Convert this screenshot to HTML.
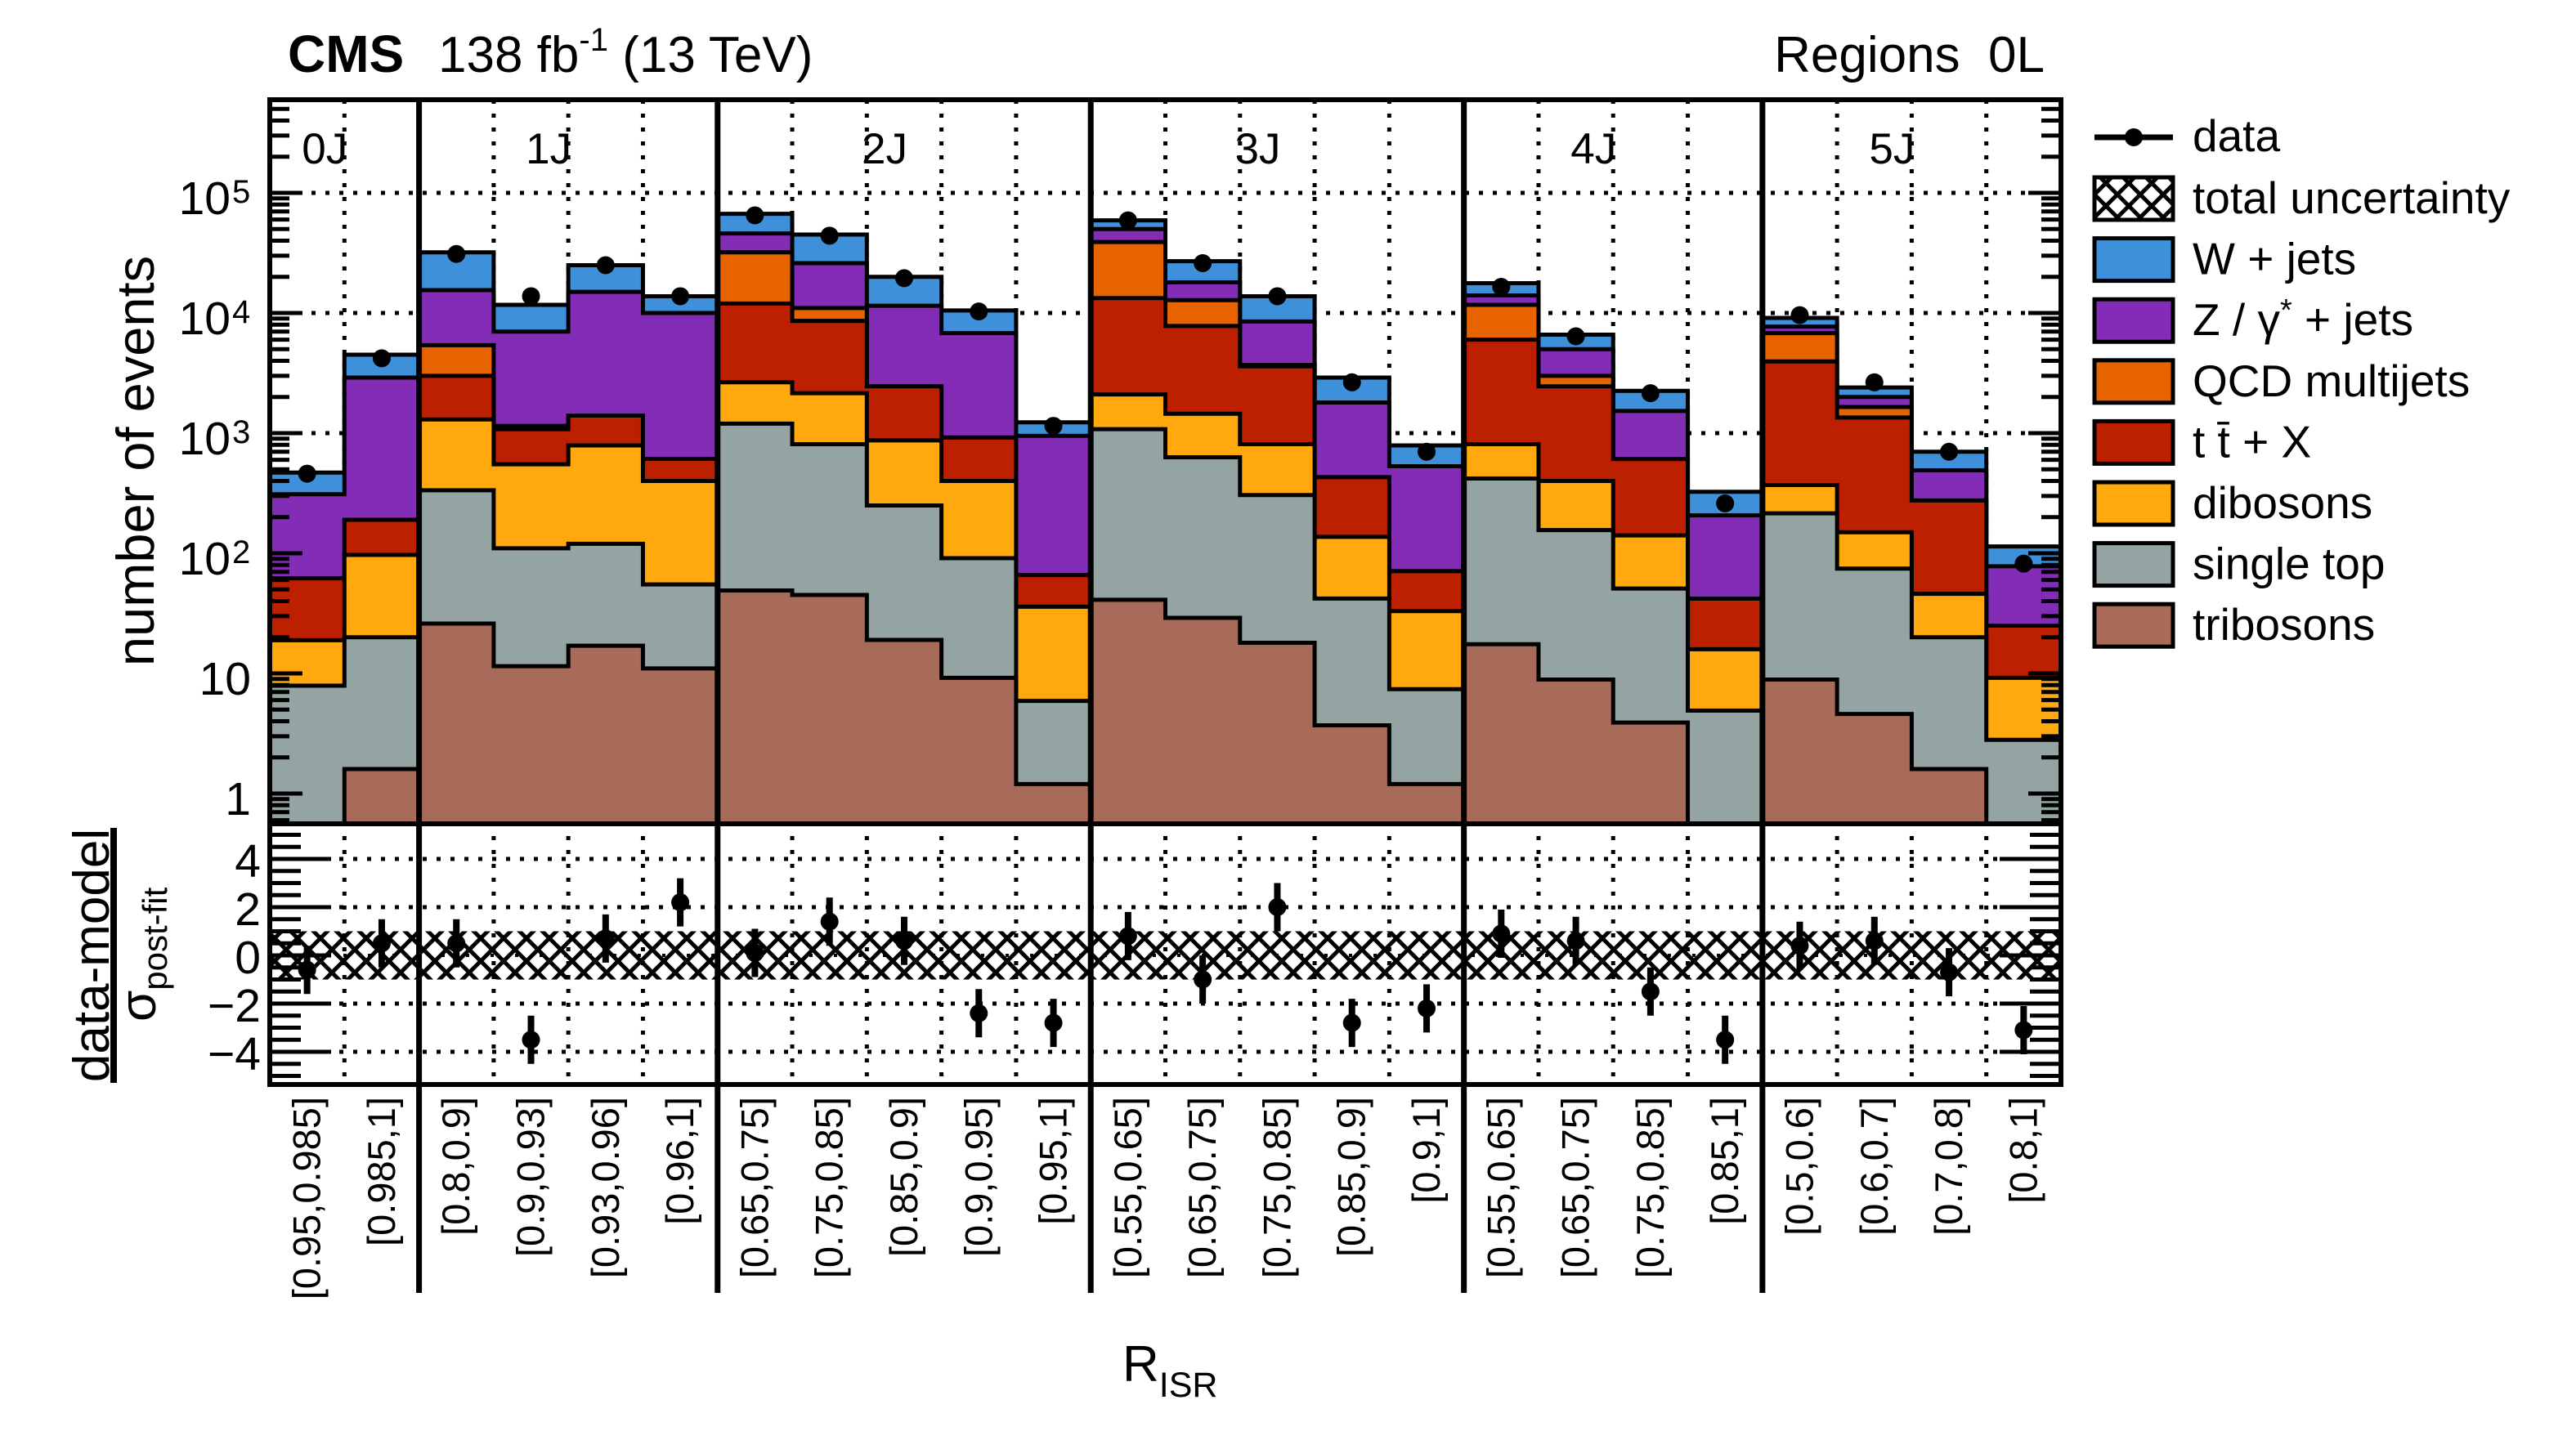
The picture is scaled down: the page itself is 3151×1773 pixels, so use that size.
<!DOCTYPE html>
<html><head><meta charset="utf-8"><style>
html,body{margin:0;padding:0;background:#fff;}
svg{display:block;font-family:"Liberation Sans",Arial,sans-serif;}
</style></head><body>
<svg id="chart" width="3151" height="1773" viewBox="0 0 3151 1773" xmlns="http://www.w3.org/2000/svg">
<defs>
<pattern id="hatch" patternUnits="userSpaceOnUse" width="28" height="28">
<path d="M0,0 L28,28 M28,0 L0,28" stroke="#000" stroke-width="5"/>
</pattern>
<clipPath id="mainClip"><rect x="330" y="122" width="2191" height="886"/></clipPath>
<clipPath id="ratioClip"><rect x="330" y="1008" width="2191" height="319"/></clipPath>
</defs>
<rect width="3151" height="1773" fill="#fff"/>
<g id="grid"></g>
<g id="stacks" clip-path="url(#mainClip)"></g>
<g id="ratio" clip-path="url(#ratioClip)"></g>
<g id="axes"></g>
<g id="points"></g>
<text x="352" y="88" font-size="64" font-weight="bold">CMS</text>
<text x="536" y="88" font-size="62">138 fb<tspan dy="-26" font-size="40">-1</tspan><tspan dy="26" font-size="62"> (13 TeV)</tspan></text>
<text x="2501" y="88" font-size="62" text-anchor="end" xml:space="preserve">Regions  0L</text>
<text transform="translate(188,564) rotate(-90)" font-size="65" text-anchor="middle">number of events</text>
<g>
<text transform="translate(133,1169) rotate(-90)" font-size="62" text-anchor="middle">data-model</text>
<rect x="135" y="1013" width="8" height="312" fill="#000"/>
<text transform="translate(190,1250) rotate(-90)" font-size="62" text-anchor="start">σ<tspan font-size="42" dy="14">post-fit</tspan></text>
</g>
<text x="1373" y="1690" font-size="62">R<tspan font-size="43" dy="19">ISR</tspan></text>
<g id="legend"></g>
</svg>
<script>
const groups = ["0J","1J","2J","3J","4J","5J"];
const groupSizes = [2,4,5,5,4,4];
const binLabels = ["[0.95,0.985]","[0.985,1]","[0.8,0.9]","[0.9,0.93]","[0.93,0.96]","[0.96,1]",
"[0.65,0.75]","[0.75,0.85]","[0.85,0.9]","[0.9,0.95]","[0.95,1]",
"[0.55,0.65]","[0.65,0.75]","[0.75,0.85]","[0.85,0.9]","[0.9,1]",
"[0.55,0.65]","[0.65,0.75]","[0.75,0.85]","[0.85,1]",
"[0.5,0.6]","[0.6,0.7]","[0.7,0.8]","[0.8,1]"];
const tribosons = [0.3,1.6,26,11.5,17,11,49,45,19,9.2,1.2,41,29,18,3.7,1.2,17.5,8.9,3.9,0.3,8.9,4.6,1.6,0.3];
const singleTop = [7.6,18.4,309,98.5,103,44,1151,765,231,81.8,4.7,1039,601,287,38.3,6.2,402,147,47,4.6,206,70,18.4,2.5];
const dibosons = [11,77,965,440,670,345,1450,1340,620,309,30,1020,820,505,95,25.6,390,244,90,11,155,75,26,6.4];
const ttX = [43,93,1700,530,610,210,9350,6450,1580,520,30,11200,6350,2790,293,38,5190,2050,469,26,3580,1200,229,15.8];
const qcd = [0,0,2400,70,0,0,20000,2400,0,0,0,25700,5000,100,0,0,5700,550,0,0,2850,300,0,0];
const zjets = [248,2710,10100,5850,13600,9390,14000,15000,9050,5880,884,11000,5200,4800,1370,459,2300,2000,920,165,900,350,215,53];
const wjets = [160,1600,16500,4700,10000,3800,21000,19000,8500,3700,280,9000,9000,5300,1100,260,3700,1600,720,118,1400,400,210,36];
const dataCounts = [460,4200,31000,13800,25000,13800,65000,44000,19500,10300,1150,59000,26000,13800,2650,700,16500,6400,2150,260,9600,2650,700,82];
const pulls = [-0.6,0.5,0.5,-3.5,0.7,2.2,0.1,1.4,0.6,-2.4,-2.8,0.8,-1.0,2.0,-2.8,-2.2,0.9,0.6,-1.5,-3.5,0.4,0.6,-0.7,-3.1];
const pullErrors = [1,1,1,1,1,1,1,1,1,1,1,1,1,1,1,1,1,1,1,1,1,1,1,1];
const mainTickLabels = ["1","10","10","10","10","10"];
const mainTickExps = ["","","2","3","4","5"];
const ratioTickValues = [4,2,0,-2,-4];
const ratioTickLabels = ["4","2","0","\u22122","\u22124"];
const uncBand = 1.0;

const NS="http://www.w3.org/2000/svg";
const X0=330, X1=2521, NB=binLabels.length, BW=(X1-X0)/NB;
const YT=122, YB=1008, RB=1327;
const bx = i => X0 + i*BW;
const yLog = v => { const vv=Math.max(v,1e-3); return Math.min(YB+20, 971 - 147*Math.log10(vv)); };
const yR = r => 1169 - 29.5*r;
function mk(tag, attrs, parent){ const e=document.createElementNS(NS,tag); for(const k in attrs) e.setAttribute(k,attrs[k]); if(parent) parent.appendChild(e); return e; }
const G=id=>document.getElementById(id);

// grid
const grid=G('grid');
let edge=0; const groupEdges=[0];
groupSizes.forEach(s=>{edge+=s; groupEdges.push(edge);});
for(let i=1;i<NB;i++){
  if(groupEdges.includes(i)) continue;
  const l=mk('line',{x1:bx(i),x2:bx(i),y1:YT,y2:RB,stroke:'#000','stroke-width':5,'stroke-dasharray':'5 12'},grid);
  
  
}
for(let d=3; d<=5; d++){
  const y=yLog(Math.pow(10,d));
  const l=mk('line',{x1:X0,x2:X1,y1:y,y2:y,stroke:'#000','stroke-width':5,'stroke-dasharray':'5 12'},grid);
  
  
}
ratioTickValues.forEach(v=>{ if(v===0) return;
  const l=mk('line',{x1:X0,x2:X1,y1:yR(v),y2:yR(v),stroke:'#000','stroke-width':5,'stroke-dasharray':'5 12'},grid);
  
  
});
{ const l=mk('line',{x1:X0,x2:X1,y1:yR(0),y2:yR(0),stroke:'#000','stroke-width':4,'stroke-dasharray':'4 26'},grid);
  
   }

// stacks
const comps=[
 {name:'tribosons',vals:tribosons,color:'#a96b59'},
 {name:'single-top',vals:singleTop,color:'#94a4a2'},
 {name:'dibosons',vals:dibosons,color:'#ffa90e'},
 {name:'ttx',vals:ttX,color:'#bd1f01'},
 {name:'qcd-multijets',vals:qcd,color:'#e76300'},
 {name:'z-jets',vals:zjets,color:'#832db6'},
 {name:'w-jets',vals:wjets,color:'#3f90da'}];
const cum=[]; let run=new Array(NB).fill(0);
comps.forEach(c=>{ run=run.map((r,i)=>r+c.vals[i]); cum.push(run.slice()); });
const stacks=G('stacks');
for(let k=comps.length-1;k>=0;k--){
  let d='M'+X0+','+(YB+20);
  for(let i=0;i<NB;i++){ const y=yLog(cum[k][i]); d+=' L'+bx(i)+','+y+' L'+bx(i+1)+','+y; }
  d+=' L'+X1+','+(YB+20)+' Z';
  const p=mk('path',{d:d,fill:comps[k].color,stroke:'#000','stroke-width':5,'stroke-linejoin':'miter'},stacks);
  
  
}

// ratio band + points
const ratio=G('ratio');
{ const r=mk('rect',{x:X0,y:yR(uncBand),width:X1-X0,height:yR(-uncBand)-yR(uncBand),fill:'url(#hatch)'},ratio);
  
   }
const pts=G('points');
for(let i=0;i<NB;i++){
  const xc=bx(i)+BW/2;
  const e=mk('line',{x1:xc,x2:xc,y1:yR(pulls[i]+pullErrors[i]),y2:yR(pulls[i]-pullErrors[i]),stroke:'#000','stroke-width':8},pts);
  
  
  const c=mk('circle',{cx:xc,cy:yR(pulls[i]),r:11,fill:'#000'},pts);
  
  
  const dp=mk('circle',{cx:xc,cy:yLog(dataCounts[i]),r:11,fill:'#000'},pts);
  
  
}

// axes
const ax=G('axes');
function frame(y1,y2,name){ const r=mk('rect',{x:X0,y:y1,width:X1-X0,height:y2-y1,fill:'none',stroke:'#000','stroke-width':6},ax);
    }
frame(YT,YB,'main-panel-frame'); frame(YB,RB,'ratio-panel-frame');
for(let d=-1; d<=5; d++){
  for(let m=1;m<=9;m++){
    const v=m*Math.pow(10,d); const y=971-147*Math.log10(v);
    if(y<YT+2||y>YB-2) continue;
    const L=(m===1)?40:24;
    const t1=mk('line',{x1:X0,x2:X0+L,y1:y,y2:y,stroke:'#000','stroke-width':5},ax);
     
    const t2=mk('line',{x1:X1-L,x2:X1,y1:y,y2:y,stroke:'#000','stroke-width':5},ax);
     
  }
}
mainTickLabels.forEach((lab,d)=>{
  const y=971-147*d;
  const t=mk('text',{x:mainTickExps[d]?282:307,y:y+26,'font-size':57,'text-anchor':'end'},ax);
  t.textContent=lab;
   
  if(mainTickExps[d]){ const s=mk('text',{x:284,y:y+12,'font-size':40},ax); s.textContent=mainTickExps[d];
      }
});
for(let r=-5; r<=5; r+=0.5){
  const y=yR(r); const L=(r%2===0)?75:38;
  const t1=mk('line',{x1:X0,x2:X0+L,y1:y,y2:y,stroke:'#000','stroke-width':5},ax);
   
  const t2=mk('line',{x1:X1-L,x2:X1,y1:y,y2:y,stroke:'#000','stroke-width':5},ax);
   
}
ratioTickValues.forEach((v,i)=>{
  const t=mk('text',{x:319,y:yR(v)+22,'font-size':57,'text-anchor':'end'},ax); t.textContent=ratioTickLabels[i];
   
});
for(let g=1; g<groupEdges.length-1; g++){
  const x=bx(groupEdges[g]);
  const l=mk('line',{x1:x,x2:x,y1:YT,y2:1582,stroke:'#000','stroke-width':7},ax);
   
}
groups.forEach((g,i)=>{
  const xc=(bx(groupEdges[i])+bx(groupEdges[i+1]))/2-24;
  const t=mk('text',{x:xc,y:200,'font-size':53,'text-anchor':'middle'},ax); t.textContent=g;
   
});
binLabels.forEach((lab,i)=>{
  const xc=bx(i)+BW/2+16;
  const t=mk('text',{transform:'translate('+xc+',1342) rotate(-90)','font-size':47,'text-anchor':'end'},ax);
  t.textContent=lab;
   
});

// legend
const lg=G('legend');
const LX=2562, LW=96, TX=2682;
{ const y=168;
  const l=mk('line',{x1:LX,x2:LX+LW,y1:y,y2:y,stroke:'#000','stroke-width':7},lg);
   
  const c=mk('circle',{cx:LX+LW/2,cy:y,r:11,fill:'#000'},lg);
   
  const t=mk('text',{x:TX,y:y+17,'font-size':55},lg); t.textContent='data';
   
}
const legItems=[
 {label:'total uncertainty',fill:'url(#hatch)'},
 {label:'W + jets',fill:'#3f90da'},
 {label:'Z / γ* + jets',fill:'#832db6'},
 {label:'QCD multijets',fill:'#e76300'},
 {label:'t t̄ + X',fill:'#bd1f01'},
 {label:'dibosons',fill:'#ffa90e'},
 {label:'single top',fill:'#94a4a2'},
 {label:'tribosons',fill:'#a96b59'}];
legItems.forEach((it,i)=>{
  const yc=243+i*74.6;
  const r=mk('rect',{x:LX,y:yc-26,width:LW,height:52,fill:it.fill,stroke:'#000','stroke-width':5},lg);
   
  const t=mk('text',{x:TX,y:yc+18,'font-size':55},lg);
  if(it.label==='Z / γ* + jets'){ t.innerHTML='Z / γ<tspan dy="-18" font-size="38">*</tspan><tspan dy="18"> + jets</tspan>'; }
  else t.textContent=it.label;
   
});
</script>
</body></html>
